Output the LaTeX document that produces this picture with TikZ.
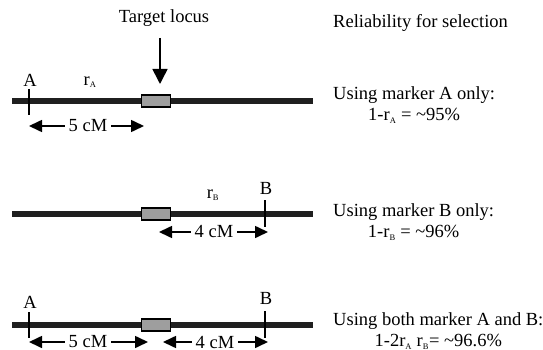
\documentclass[tikz,border=0pt]{standalone}
\usepackage{fontspec}
\setmainfont{Liberation Serif}
\usetikzlibrary{arrows.meta, positioning}
\newcommand{\rsub}[1]{r\textsubscript{\fontsize{8.5}{8.5}\selectfont #1}}

\begin{document}
\begin{tikzpicture}[x=1pt, y=-1pt, >=Triangle,
    font=\fontsize{18.5}{21}\selectfont,
    chrom/.style={line width=6.5pt, black!88},
    locus/.style={rectangle, draw, line width=1.4pt, fill=black!38,
                  minimum width=29pt, minimum height=12pt, inner sep=0pt},
    tick/.style={line width=1.6pt},
    dist/.style={->, line width=1.6pt, >={Triangle[length=13pt, width=12pt]}},
    dlabel/.style={inner xsep=4pt, inner ysep=0pt},
    note/.style={anchor=west, align=center, inner sep=0pt}]

    \useasboundingbox (0,0) rectangle (543,350);

    % Chromosomes with target locus
    \foreach \y/\n in {101/1, 214/2, 325/3} {
        \draw[chrom] (12,\y) -- (313,\y);
        \node[locus] (loc\n) at (156,\y) {};
    }

    % Target locus arrow
    \node (target) at (164,18) {Target locus};
    \draw[->, line width=1.6pt, >={Triangle[length=15pt, width=15pt]}]
        (160,38) -- (160,84);

    % Marker A only
    \draw[tick] (29,89) -- (29,115) coordinate (A1);
    \node (lA1) at (30,80) {A};
    \node (rA) at (90,82) {\rsub{A}};
    \node[dlabel] (d1) at (88,126) {5 cM};
    \draw[dist] (d1) -- (A1 |- d1);
    \draw[dist] (d1) -- (144,126);

    % Marker B only
    \draw[tick] (265,200) -- (265,227) coordinate (B2);
    \node (lB2) at (266,188) {B};
    \node (rB) at (213,195) {\rsub{B}};
    \node[dlabel] (d2) at (214,232) {4 cM};
    \draw[dist] (d2) -- (159,232);
    \draw[dist] (d2) -- ([xshift=3pt]B2 |- d2);

    % Both markers
    \draw[tick] (29,312) -- (29,338) coordinate (A3);
    \draw[tick] (265,311) -- (265,338) coordinate (B3);
    \node (lA3) at (30,302) {A};
    \node (lB3) at (266,298) {B};
    \node[dlabel] (d3a) at (88,342) {5 cM};
    \draw[dist] (d3a) -- (A3 |- d3a);
    \draw[dist] (d3a) -- (148,342);
    \node[dlabel] (d3b) at (215,342) {4 cM};
    \draw[dist] (d3b) -- (163,342);
    \draw[dist] (d3b) -- ([xshift=3pt]B3 |- d3b);

    % Reliability notes
    \node[note] (head) at (333,23) {Reliability for selection};
    \node[note] (n1) at (333,105) {Using marker A only:\\ 1-\rsub{A} = \textasciitilde95\%};
    \node[note] (n2) at (333,222) {Using marker B only:\\ 1-\rsub{B} = \textasciitilde96\%};
    \node[note] (n3) at (333,331) {Using both marker A and B:\\ 1-2\rsub{A} \rsub{B}= \textasciitilde96.6\%};

\end{tikzpicture}
\end{document}
